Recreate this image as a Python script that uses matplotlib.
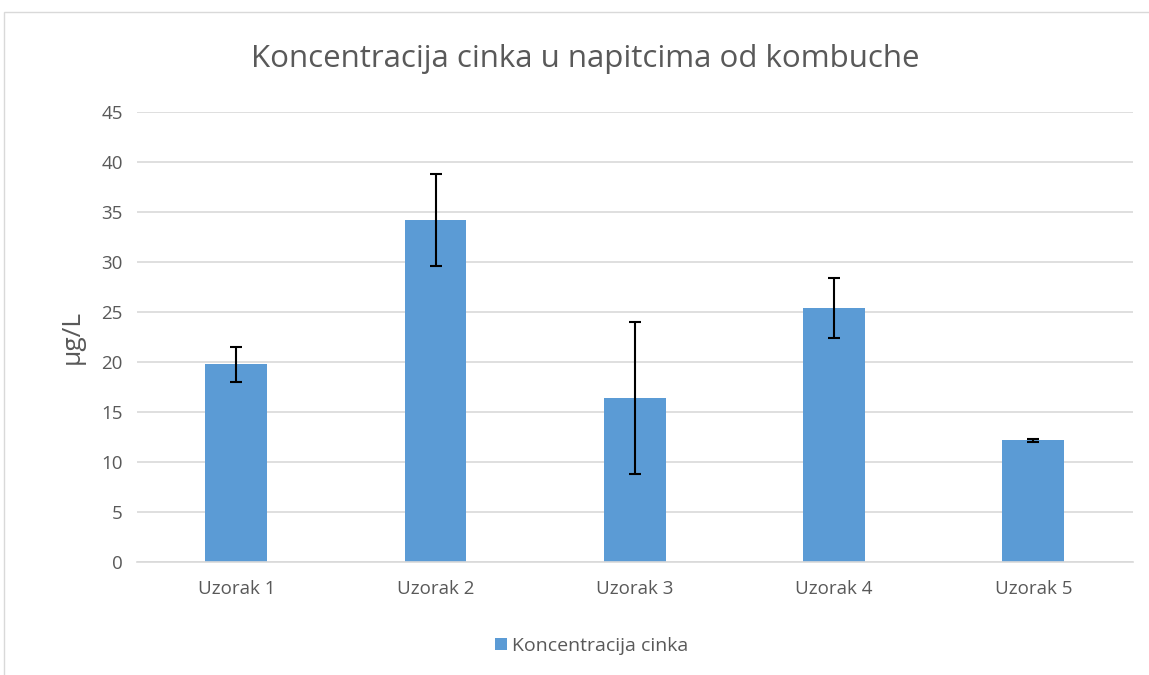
import matplotlib
matplotlib.use('Agg')
import matplotlib.pyplot as plt
from matplotlib.patches import Rectangle

uzorci = ['Uzorak 1', 'Uzorak 2', 'Uzorak 3', 'Uzorak 4', 'Uzorak 5']
koncentracija = [19.8, 34.2, 16.4, 25.4, 12.2]
greska = [1.75, 4.6, 7.6, 3.0, 0.15]

plt.rcParams['font.family'] = ['Open Sans', 'DejaVu Sans']
siva = '#595959'

fig = plt.figure(figsize=(11.49, 6.75), dpi=100)
ax = fig.add_axes([0.119, 0.167, 0.867, 0.667])

x = range(len(uzorci))
ax.bar(x, koncentracija, width=0.31, color='#5B9BD5', label='Koncentracija cinka', zorder=2)
ax.errorbar(x, koncentracija, yerr=greska, fmt='none', ecolor='black',
            elinewidth=1.5, capsize=4.5, capthick=1.5, zorder=3)

ax.set_xlim(-0.5, len(uzorci) - 0.5)
ax.set_ylim(0, 45)
ax.set_yticks(range(0, 46, 5))
ax.set_xticks(list(x))
ax.set_xticklabels(uzorci)
ax.grid(axis='y', color='#D9D9D9', linewidth=1.2, zorder=0)
ax.tick_params(axis='both', length=0, labelsize=13.5, colors=siva, pad=10)
ax.tick_params(axis='x', pad=13)
for s in ['top', 'right', 'left']:
    ax.spines[s].set_visible(False)
ax.spines['bottom'].set_color('#D9D9D9')
ax.spines['bottom'].set_linewidth(1.2)

ax.set_ylabel('µg/L', fontsize=19, color=siva, labelpad=12)
fig.text(0.509, 0.912, 'Koncentracija cinka u napitcima od kombuche',
         ha='center', va='center', fontsize=22.5, color=siva)

fig.legend(loc='center', bbox_to_anchor=(0.515, 0.043), frameon=False,
           fontsize=14, labelcolor=siva, handlelength=0.6, handleheight=0.6,
           handletextpad=0.25)

fig.patches.append(Rectangle((4 / 1149, -0.1), 1.2, 1.1 - 12 / 675, transform=fig.transFigure,
                             fill=False, edgecolor='#D9D9D9', linewidth=1))

fig.savefig('out.png', dpi=100)
